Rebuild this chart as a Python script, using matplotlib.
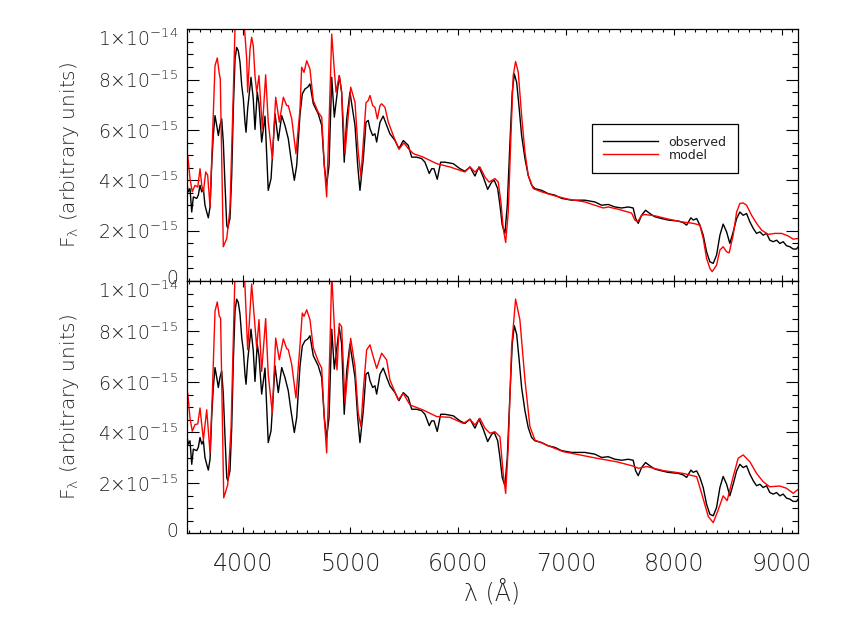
import numpy as np
import matplotlib
matplotlib.use("Agg")
import matplotlib.pyplot as plt
import matplotlib.transforms as mtransforms
from matplotlib.ticker import FixedLocator, MultipleLocator

# Spettro osservato (lunghezza d'onda in Angstrom, flusso in unita' di 1e-15)
wave_obs = [3480, 3495, 3511, 3527, 3542, 3573, 3588, 3604, 3620, 3635,
            3650, 3666, 3681, 3697, 3712, 3727, 3743, 3759, 3774, 3789,
            3805, 3820, 3836, 3852, 3861, 3882, 3898, 3913, 3929, 3944,
            3959, 3975, 3991, 4006, 4021, 4031, 4046, 4077, 4098, 4114,
            4135, 4151, 4176, 4207, 4237, 4263, 4300, 4330, 4362, 4392,
            4423, 4448, 4479, 4501, 4532, 4553, 4578, 4603, 4624, 4655,
            4701, 4733, 4757, 4779, 4801, 4826, 4850, 4896, 4918, 4942,
            4965, 4995, 5042, 5067, 5088, 5119, 5144, 5165, 5181, 5206,
            5227, 5243, 5274, 5304, 5336, 5366, 5413, 5450, 5490, 5536,
            5568, 5614, 5661, 5691, 5731, 5753, 5775, 5805, 5837, 5877,
            5954, 6016, 6062, 6109, 6155, 6192, 6232, 6273, 6310, 6334,
            6366, 6387, 6408, 6433, 6455, 6480, 6501, 6520, 6542, 6563,
            6588, 6619, 6649, 6681, 6712, 6774, 6835, 6897, 6959, 7052,
            7175, 7268, 7330, 7392, 7454, 7516, 7577, 7623, 7646, 7670,
            7701, 7738, 7778, 7825, 7887, 7948, 8041, 8087, 8119, 8159,
            8180, 8212, 8242, 8273, 8304, 8335, 8366, 8397, 8428, 8458,
            8490, 8520, 8551, 8583, 8613, 8644, 8675, 8706, 8737, 8768,
            8799, 8829, 8861, 8891, 8922, 8954, 8984, 9015, 9046, 9077,
            9108, 9139, 9154]
flux_obs = [3.93, 3.54, 3.67, 2.74, 3.34, 3.28, 3.41, 3.80, 3.54, 3.67,
            3.01, 2.74, 2.51, 2.94, 4.59, 5.78, 6.57, 6.18, 5.78, 6.18,
            6.44, 5.52, 3.80, 2.22, 2.09, 2.48, 4.20, 6.84, 8.82, 9.28,
            9.15, 8.69, 7.76, 7.24, 6.31, 5.91, 6.84, 8.09, 7.24, 6.02,
            7.50, 7.04, 5.52, 6.55, 3.60, 4.07, 6.64, 5.58, 6.57, 6.18,
            5.65, 4.86, 4.00, 4.59, 6.64, 7.43, 7.63, 7.70, 7.83, 7.04,
            6.64, 6.18, 4.59, 3.80, 4.59, 8.09, 6.51, 8.16, 7.50, 4.72,
            6.44, 7.50, 6.18, 4.59, 3.60, 4.86, 6.31, 6.38, 6.05, 5.78,
            5.85, 5.52, 6.31, 6.55, 6.18, 5.85, 5.58, 5.26, 5.58, 5.39,
            4.92, 4.92, 4.86, 4.72, 4.27, 4.46, 4.46, 4.04, 4.72, 4.72,
            4.66, 4.46, 4.36, 4.53, 4.17, 4.53, 4.13, 3.64, 3.93, 4.00,
            3.67, 3.01, 2.22, 1.89, 3.01, 5.52, 7.50, 8.23, 7.89, 6.97,
            5.78, 4.86, 4.20, 3.80, 3.67, 3.60, 3.47, 3.41, 3.28, 3.21,
            3.21, 3.14, 3.01, 3.04, 2.94, 2.90, 2.94, 2.90, 2.48, 2.29,
            2.61, 2.81, 2.68, 2.55, 2.48, 2.42, 2.38, 2.32, 2.22, 2.51,
            2.42, 2.48, 2.22, 1.82, 1.16, 0.76, 0.70, 1.03, 1.82, 2.26,
            1.95, 1.49, 1.95, 2.48, 2.74, 2.61, 2.68, 2.35, 2.09, 1.89,
            1.95, 1.82, 1.89, 1.62, 1.56, 1.62, 1.49, 1.56, 1.40, 1.36,
            1.27, 1.27, 1.36]

# Modello del pannello superiore
wave_mod_top = [3480, 3490, 3511, 3532, 3557, 3583, 3604, 3620, 3635, 3657,
                3675, 3697, 3718, 3743, 3764, 3783, 3792, 3805, 3820, 3852,
                3882, 3913, 3929, 3955, 3985, 4015, 4037, 4046, 4068, 4083,
                4098, 4114, 4130, 4151, 4182, 4213, 4237, 4275, 4306, 4340,
                4377, 4408, 4423, 4455, 4494, 4532, 4547, 4569, 4594, 4624,
                4655, 4701, 4733, 4757, 4779, 4810, 4826, 4847, 4866, 4896,
                4918, 4949, 5002, 5042, 5072, 5097, 5119, 5144, 5165, 5181,
                5206, 5227, 5249, 5274, 5289, 5320, 5351, 5397, 5450, 5496,
                5536, 5583, 5675, 5800, 5923, 6062, 6109, 6155, 6201, 6248,
                6285, 6340, 6371, 6396, 6417, 6440, 6464, 6489, 6510, 6532,
                6557, 6588, 6619, 6649, 6696, 6774, 6897, 7020, 7175, 7345,
                7392, 7484, 7608, 7639, 7664, 7701, 7732, 7825, 7948, 8072,
                8180, 8242, 8273, 8304, 8335, 8356, 8397, 8428, 8458, 8490,
                8514, 8551, 8583, 8613, 8644, 8675, 8722, 8768, 8815, 8876,
                8938, 9000, 9061, 9108, 9154]
flux_mod_top = [4.79, 4.99, 4.07, 3.54, 3.80, 3.73, 4.46, 3.80, 3.54, 4.33,
                4.20, 2.94, 5.52, 8.55, 8.86, 8.23, 8.03, 4.86, 1.36, 1.69,
                2.88, 7.50, 10.14, 11.8, 11.2, 10.14, 8.82, 7.50, 9.22, 9.68,
                9.35, 8.16, 7.50, 8.16, 6.05, 8.19, 6.31, 4.86, 7.30, 6.31,
                7.30, 6.97, 6.97, 6.44, 5.06, 6.84, 8.49, 8.29, 8.75, 8.42,
                7.17, 6.70, 6.51, 4.59, 3.34, 7.50, 9.81, 8.55, 7.50, 8.16,
                7.50, 5.06, 7.70, 7.10, 5.12, 4.13, 5.52, 7.08, 7.17, 7.37,
                6.97, 6.90, 6.44, 6.97, 7.04, 6.90, 6.31, 5.78, 5.23, 5.49,
                5.26, 5.06, 4.92, 4.66, 4.53, 4.33, 4.53, 4.33, 4.53, 4.13,
                3.93, 4.07, 3.93, 3.14, 2.09, 1.53, 2.74, 5.78, 8.16, 8.72,
                8.29, 6.57, 5.12, 4.20, 3.67, 3.54, 3.38, 3.25, 3.14, 2.90,
                2.94, 2.85, 2.70, 2.42, 2.35, 2.61, 2.64, 2.59, 2.46, 2.35,
                2.29, 2.22, 1.69, 0.90, 0.50, 0.37, 0.63, 1.23, 1.36, 1.16,
                1.12, 1.82, 2.74, 3.08, 3.10, 3.01, 2.61, 2.29, 2.02, 1.85,
                1.89, 1.89, 1.79, 1.66, 1.69]

# Modello del pannello inferiore
wave_mod_bot = [3480, 3490, 3511, 3532, 3557, 3583, 3604, 3620, 3635, 3666,
                3697, 3718, 3743, 3764, 3783, 3795, 3810, 3824, 3861, 3892,
                3929, 3955, 3985, 4015, 4046, 4083, 4130, 4151, 4176, 4213,
                4237, 4275, 4306, 4340, 4377, 4408, 4423, 4455, 4494, 4532,
                4553, 4569, 4594, 4624, 4655, 4701, 4733, 4757, 4779, 4810,
                4826, 4859, 4875, 4896, 4918, 4949, 5002, 5042, 5072, 5097,
                5119, 5150, 5181, 5211, 5243, 5289, 5336, 5366, 5443, 5490,
                5552, 5675, 5800, 5923, 6046, 6109, 6155, 6201, 6248, 6294,
                6340, 6387, 6417, 6440, 6464, 6495, 6532, 6572, 6619, 6665,
                6712, 6820, 6974, 7129, 7284, 7469, 7623, 7670, 7748, 7902,
                8087, 8212, 8258, 8320, 8366, 8412, 8458, 8495, 8551, 8597,
                8644, 8706, 8768, 8829, 8891, 8984, 9046, 9108, 9154]
flux_mod_bot = [4.97, 5.56, 4.57, 4.05, 4.31, 4.34, 4.97, 4.31, 3.71, 4.90,
                3.19, 5.50, 8.80, 9.17, 8.60, 8.53, 4.84, 1.41, 1.93, 4.18,
                10.4, 11.8, 11.2, 10.4, 7.28, 9.88, 7.35, 8.47, 6.42, 8.51,
                6.29, 4.77, 7.74, 6.88, 7.71, 7.32, 7.28, 6.69, 5.37, 7.48,
                8.73, 8.60, 8.86, 8.47, 7.35, 6.82, 6.55, 4.57, 3.19, 7.48,
                10.3, 7.40, 6.48, 8.32, 8.19, 5.16, 7.73, 6.61, 4.76, 4.23,
                5.68, 7.27, 7.47, 7.00, 6.54, 7.14, 6.87, 6.08, 5.29, 5.55,
                5.09, 4.89, 4.63, 4.60, 4.36, 4.52, 4.30, 4.56, 4.17, 3.97,
                4.03, 3.83, 2.38, 1.59, 3.44, 7.40, 9.28, 8.46, 6.08, 4.23,
                3.70, 3.50, 3.24, 3.11, 2.98, 2.84, 2.67, 2.58, 2.65, 2.49,
                2.38, 2.25, 1.59, 0.67, 0.43, 0.93, 1.49, 1.30, 2.25, 2.98,
                3.11, 2.84, 2.38, 2.05, 1.85, 1.88, 1.79, 1.59, 1.75]

xtick_vals = [4000, 5000, 6000, 7000, 8000, 9000]
ytick_vals = [0, 2e-15, 4e-15, 6e-15, 8e-15, 1e-14]
ytick_labels = ["0", "2×10$^{-15}$", "4×10$^{-15}$", "6×10$^{-15}$",
                "8×10$^{-15}$", "1×10$^{-14}$"]

plt.rcParams["font.family"] = ["DejaVu Sans"]
plt.rcParams["font.weight"] = "light"
plt.rcParams["axes.labelweight"] = "light"
plt.rcParams["mathtext.default"] = "regular"
plt.rcParams["text.color"] = "#222222"
plt.rcParams["xtick.labelcolor"] = "#222222"
plt.rcParams["ytick.labelcolor"] = "#222222"
plt.rcParams["axes.labelcolor"] = "#222222"

fig = plt.figure(figsize=(8.45, 6.23), dpi=100)
ax_top = fig.add_axes([0.2209, 0.5490, 0.7238, 0.4040])
ax_bot = fig.add_axes([0.2209, 0.1437, 0.7238, 0.4053])


def disegna_pannello(ax, wave_mod, flux_mod):
    ax.plot(wave_obs, np.array(flux_obs) * 1e-15, color="black", lw=1.0,
            label="observed")
    ax.plot(wave_mod, np.array(flux_mod) * 1e-15, color="red", lw=1.0,
            label="model")
    ax.set_xlim(3480, 9155)
    ax.set_ylim(0, 1e-14)
    ax.xaxis.set_major_locator(FixedLocator(xtick_vals))
    ax.xaxis.set_minor_locator(MultipleLocator(100))
    ax.set_yticks(ytick_vals, labels=ytick_labels)
    ax.yaxis.set_minor_locator(MultipleLocator(0.5e-15))
    ax.tick_params(which="both", direction="in", top=True, right=True, width=0.8)
    ax.tick_params(axis="y", which="major", length=8.6, pad=6, labelsize=13.5)
    ax.tick_params(axis="y", which="minor", length=4.3)
    ax.tick_params(axis="x", which="major", length=4, pad=13.5, labelsize=17)
    ax.tick_params(axis="x", which="minor", length=2)
    for sp in ax.spines.values():
        sp.set_linewidth(0.9)
    ax.set_ylabel(r"F$_\lambda$ (arbitrary units)", fontsize=14.5, labelpad=12)

    # etichette estreme spostate come nell'originale
    lab = ax.get_yticklabels()
    lab[0].set_transform(lab[0].get_transform() +
                         mtransforms.ScaledTranslation(0, 3 / 72, fig.dpi_scale_trans))
    lab[-1].set_transform(lab[-1].get_transform() +
                          mtransforms.ScaledTranslation(0, -6 / 72, fig.dpi_scale_trans))


disegna_pannello(ax_top, wave_mod_top, flux_mod_top)
disegna_pannello(ax_bot, wave_mod_bot, flux_mod_bot)

ax_top.tick_params(axis="x", labelbottom=False)
ax_bot.set_xlabel("λ (Å)", fontsize=17, labelpad=2)

leg = ax_top.legend(loc="upper left", bbox_to_anchor=(0.6622, 0.6226),
                    borderaxespad=0, handlelength=4.4,
                    handletextpad=0.85, borderpad=0.9, labelspacing=0,
                    fancybox=False, framealpha=1, edgecolor="black",
                    prop={"size": 9, "weight": "normal"})
leg.get_frame().set_linewidth(0.9)
for t in leg.get_texts():
    t.set_color("#222222")

fig.savefig("out.png", dpi=100)
